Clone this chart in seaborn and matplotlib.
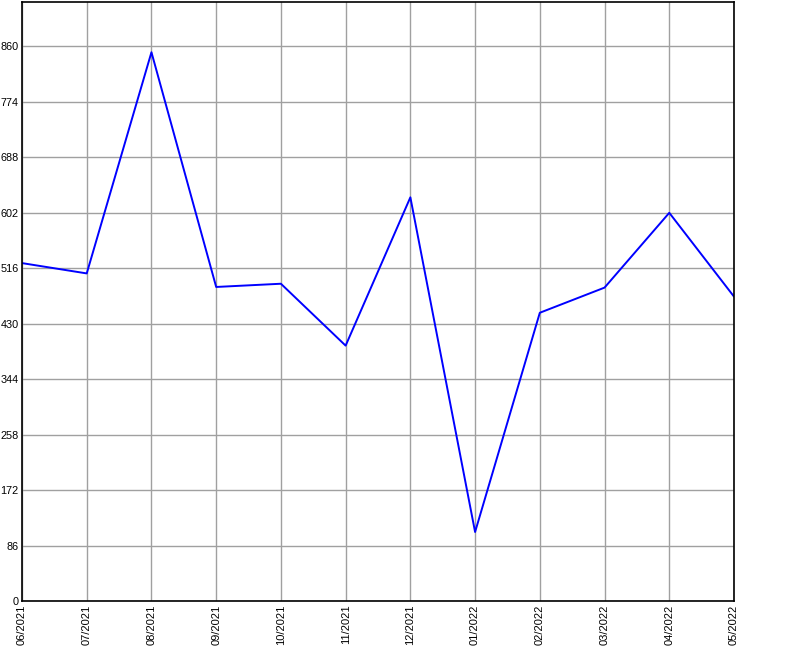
import matplotlib
matplotlib.use("Agg")
import matplotlib.pyplot as plt
import seaborn as sns
import pandas as pd

months = ["06/2021", "07/2021", "08/2021", "09/2021", "10/2021", "11/2021",
          "12/2021", "01/2022", "02/2022", "03/2022", "04/2022", "05/2022"]
values = [524, 508, 851, 487, 492, 396, 626, 107, 447, 486, 602, 472]
y_ticks = [0, 86, 172, 258, 344, 430, 516, 602, 688, 774, 860]

df = pd.DataFrame({"month": months, "value": values})
df["pos"] = range(len(df))

sns.set_style("white")
plt.rcParams["font.family"] = ["Liberation Sans", "DejaVu Sans"]

fig = plt.figure(figsize=(8, 6.5), dpi=100)
ax = fig.add_axes([0.0275, 0.0754, 0.89, 0.9216])

sns.lineplot(data=df, x="pos", y="value", color="#0000ff", linewidth=1.4, ax=ax)

ax.set_xlim(0, len(months) - 1)
ax.set_ylim(0, 929)
ax.set_xticks(df["pos"])
ax.set_xticklabels(months, rotation=90, fontsize=8)
ax.set_yticks(y_ticks)
ax.set_yticklabels([str(t) for t in y_ticks], fontsize=7.8)
ax.grid(True, color="#a0a0a0", linewidth=1)
ax.set_axisbelow(True)
ax.tick_params(axis="both", length=2, width=0.8, color="#a0a0a0",
               labelcolor="black", pad=0.5)
for s in ax.spines.values():
    s.set_color("black")
    s.set_linewidth(1.2)
ax.set_xlabel("")
ax.set_ylabel("")

plt.savefig("out.png", dpi=100)
